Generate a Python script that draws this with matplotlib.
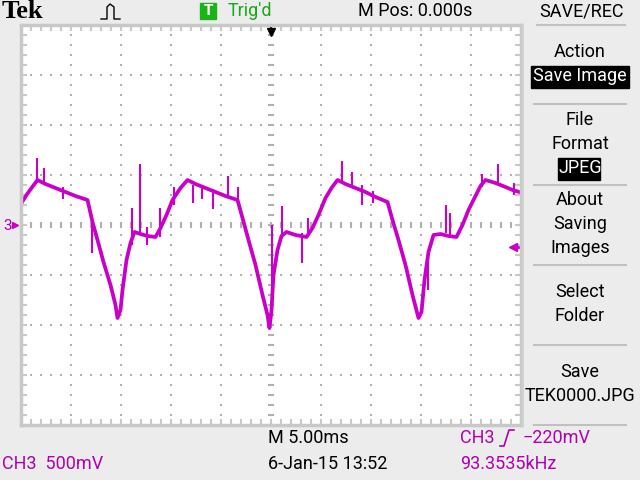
import matplotlib
matplotlib.use("Agg")
import matplotlib.pyplot as plt
from matplotlib.patches import Rectangle
import numpy as np

# trace (time in ms, voltage in V), 5 ms/div, 500 mV/div
trace_t = [-24.9, -24.4, -23.9, -23.3, -22.5, -21.5, -20.5, -19.5, -18.3, -17.8,
           -17.3, -16.7, -16.0, -15.5, -15.3, -15.0, -14.8, -14.4, -14.0, -13.6,
           -13.0, -12.3, -11.5, -11.0, -10.4, -9.8, -9.0, -8.3, -7.5, -6.5,
           -5.5, -4.5, -3.3, -2.8, -2.2, -1.5, -0.8, -0.3, -0.1, 0.1,
           0.3, 0.7, 1.1, 1.6, 2.5, 3.6, 4.2, 4.8, 5.5, 6.1,
           6.7, 7.5, 8.5, 9.5, 10.5, 11.7, 12.2, 12.8, 13.5, 14.2,
           14.8, 15.1, 15.4, 15.8, 16.3, 17.0, 17.8, 18.6, 19.2, 19.8,
           20.4, 21.0, 21.5, 22.5, 23.5, 24.2, 24.9]
trace_v = [0.22, 0.30, 0.37, 0.45, 0.41, 0.37, 0.33, 0.29, 0.25, 0.03,
           -0.15, -0.37, -0.60, -0.80, -0.93, -0.85, -0.65, -0.35, -0.18, -0.07,
           -0.09, -0.11, -0.12, -0.03, 0.10, 0.25, 0.37, 0.45, 0.41, 0.37,
           0.33, 0.29, 0.25, 0.07, -0.15, -0.40, -0.70, -0.90, -1.03, -0.85,
           -0.50, -0.25, -0.11, -0.07, -0.10, -0.12, -0.03, 0.10, 0.27, 0.37,
           0.45, 0.41, 0.37, 0.33, 0.28, 0.23, 0.05, -0.15, -0.40, -0.70,
           -0.93, -0.87, -0.55, -0.27, -0.10, -0.09, -0.11, -0.12, 0.00, 0.15,
           0.27, 0.39, 0.45, 0.42, 0.38, 0.35, 0.33]

# glitches on the trace: time, low, high (V)
spike_t = [-23.4, -22.7, -20.8, -17.9, -13.9, -13.1, -12.4, -11.1, -9.7, -7.8,
           -6.9, -5.8, -4.3, -3.3, 0.1, 1.1, 3.1, 3.7, 7.1, 8.1, 9.1, 10.2,
           15.7, 17.5, 17.9, 21.1, 22.7, 24.3]
spike_lo = [0.42, 0.40, 0.26, -0.28, -0.20, -0.10, -0.20, -0.12, 0.20, 0.22,
            0.26, 0.16, 0.28, 0.22, -0.90, -0.10, -0.38, -0.10, 0.42, 0.38,
            0.20, 0.22, -0.65, -0.08, -0.10, 0.38, 0.40, 0.30]
spike_hi = [0.67, 0.57, 0.38, 0.05, 0.17, 0.61, -0.02, 0.17, 0.38, 0.40,
            0.40, 0.36, 0.49, 0.38, 0.00, 0.19, -0.08, 0.07, 0.64, 0.53,
            0.40, 0.34, -0.30, 0.20, 0.12, 0.51, 0.61, 0.42]

trig_level = -0.22

menu_items = [("Action", 52), ("Save Image", 76), ("File", 120), ("Format", 144),
              ("JPEG", 168), ("About", 200), ("Saving", 224), ("Images", 248),
              ("Select", 292), ("Folder", 316), ("Save", 372), ("TEK0000.JPG", 396)]
# highlighted entries: label -> box (x0, y0, x1, y1) in pixels
highlight_box = {"Save Image": (531, 66, 629, 88), "JPEG": (558, 158, 600, 180)}
separators = [104, 185, 265, 345, 425]

TRACE = "#c800c8"
TXT_M = "#b000b0"
BG = "#ececec"
GRID = "#b0b0b0"
FONT = ["Roboto", "DejaVu Sans"]
FS = 13

fig = plt.figure(figsize=(6.4, 4.8), dpi=100, facecolor=BG)


def px(x, y):
    return x / 640, 1 - y / 480


ax = fig.add_axes([20.5 / 640, 1 - 425 / 480, 500 / 640, 400 / 480])
ax.set_facecolor("white")
ax.set_xlim(-25, 25)
ax.set_ylim(-2, 2)
for s in ax.spines.values():
    s.set_color("#c8c8c8")
    s.set_linewidth(2.5)
ax.set_xticks(np.arange(-25, 25.1, 1), minor=True)
ax.set_yticks(np.arange(-2, 2.01, 0.1), minor=True)
ax.set_xticks([])
ax.set_yticks([])
ax.tick_params(which="minor", direction="in", length=4, width=1.5, color="#c8c8c8",
               top=True, right=True, labelbottom=False, labelleft=False)

# dotted graticule
grid_x = np.arange(-20, 21, 5)
grid_y = np.arange(-1.5, 1.51, 0.5)
dots_x = np.arange(-25, 25.01, 1)
dots_y = np.arange(-2, 2.001, 0.1)
for gx in grid_x:
    if gx != 0:
        ax.plot(np.full_like(dots_y, gx), dots_y, ls="none", marker="s", ms=1.5,
                color=GRID, mew=0)
for gy in grid_y:
    if abs(gy) > 1e-9:
        ax.plot(dots_x, np.full_like(dots_x, gy), ls="none", marker="s", ms=1.5,
                color=GRID, mew=0)
# center cross with ticks
ax.plot(dots_x, np.zeros_like(dots_x), ls="none", marker="|", ms=5, mew=1.5, color=GRID)
ax.plot(np.zeros_like(dots_y), dots_y, ls="none", marker="_", ms=5, mew=1.5, color=GRID)

# waveform
ax.plot(trace_t, trace_v, color=TRACE, lw=2.7, solid_joinstyle="round")
ax.vlines(spike_t, spike_lo, spike_hi, color=TRACE, lw=1.5)

# markers
ax.plot([0], [1.93], marker="v", ms=6, color="black", clip_on=False)
ax.plot([0, 0], [1.93, 2.0], color="black", lw=1.5, clip_on=False)
ax.plot([24.2], [trig_level], marker="<", ms=6, color=TRACE, clip_on=False)
ax.plot([24.2, 25.0], [trig_level, trig_level], color=TRACE, lw=2, clip_on=False)
ax.plot([-25.6], [0], marker=">", ms=4, color=TRACE, clip_on=False)
fig.text(*px(3, 226), "3", color=TXT_M, fontsize=11, family=FONT, va="center")

# top bar
fig.text(*px(2, 12), "Tek", family="Liberation Serif", weight="bold", fontsize=19,
         va="center")
pulse_x = [101, 107, 107, 110, 114, 114, 120]
pulse_y = [19, 19, 7, 4, 7, 19, 19]
fig.add_artist(plt.Line2D([v / 640 for v in pulse_x], [1 - v / 480 for v in pulse_y],
                          color="black", lw=1))
fig.patches.append(Rectangle(px(200, 19), 16 / 640, 16 / 480, color="#18b418",
                             transform=fig.transFigure))
fig.text(*px(208, 11), "T", color="white", fontsize=11, family=FONT, ha="center",
         va="center", weight="bold")
fig.text(*px(228, 11), "Trig'd", color="#16a816", fontsize=FS, family=FONT, va="center")
fig.text(*px(415, 11), "M Pos: 0.000s", fontsize=FS, family=FONT, va="center",
         ha="center")

# side menu
fig.add_artist(plt.Line2D([521.5 / 640] * 2, [1 - 26 / 480, 1 - 425 / 480],
                          color="#d0d0d0", lw=2))
fig.text(*px(581, 11), "SAVE/REC", fontsize=FS, family=FONT, va="center", ha="center")
fig.add_artist(plt.Line2D([537 / 640, 625 / 640], [1 - 25 / 480] * 2,
                          color="#c0c0c0", lw=1.5))
for y in separators:
    fig.add_artist(plt.Line2D([534 / 640, 626 / 640], [1 - y / 480] * 2,
                              color="#c0c0c0", lw=1.5))
for label, y in menu_items:
    color = "black"
    if label in highlight_box:
        x0, y0, x1, y1 = highlight_box[label]
        fig.patches.append(Rectangle(px(x0, y1), (x1 - x0) / 640, (y1 - y0) / 480,
                                     color="black", transform=fig.transFigure))
        color = "white"
    fig.text(*px(580, y), label, fontsize=FS, family=FONT, va="center",
             ha="center", color=color)

# bottom bar
fig.text(*px(268, 438), "M 5.00ms", fontsize=FS, family=FONT, va="center")
fig.text(*px(268, 464), "6-Jan-15 13:52", fontsize=FS, family=FONT, va="center")
fig.text(*px(2, 464), "CH3  500mV", fontsize=FS, family=FONT, va="center", color=TXT_M)
fig.text(*px(460, 438), "CH3", fontsize=FS, family=FONT, va="center", color=TXT_M)
edge_x = [500, 504, 509, 514]
edge_y = [446, 446, 430, 430]
fig.add_artist(plt.Line2D([v / 640 for v in edge_x], [1 - v / 480 for v in edge_y],
                          color=TXT_M, lw=1.2))
fig.text(*px(522, 438), "\u2212220mV", fontsize=FS, family=FONT, va="center", color=TXT_M)
fig.text(*px(460, 464), "93.3535kHz", fontsize=FS, family=FONT, va="center", color=TXT_M)

fig.savefig("out.png", dpi=100, facecolor=BG)
